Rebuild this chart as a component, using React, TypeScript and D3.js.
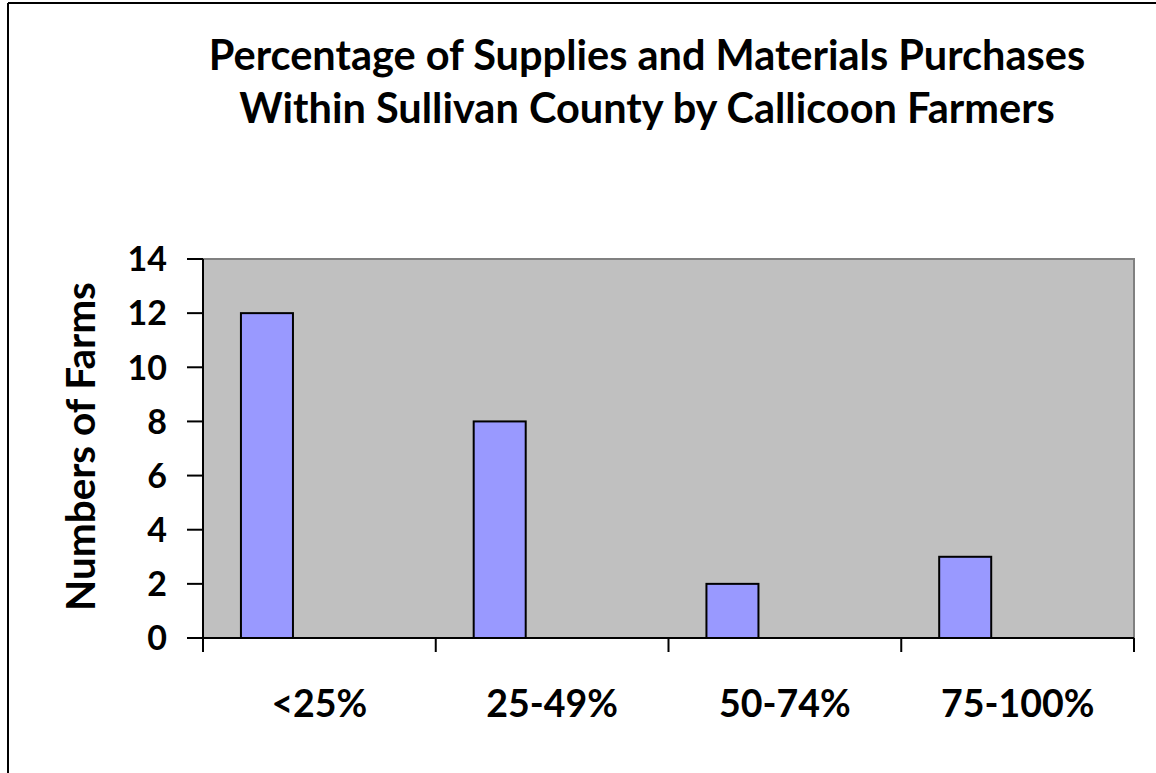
import React from "react";
import * as d3 from "d3";

const categories = ["<25%", "25-49%", "50-74%", "75-100%"];
const farms = [12, 8, 2, 3];
const yTicks = [0, 2, 4, 6, 8, 10, 12, 14];
const titleLines = [
  "Percentage of Supplies and Materials Purchases",
  "Within Sullivan County by Callicoon Farmers",
];
const yTitle = "Numbers of Farms";

const W = 1156;
const H = 773;
const plot = { left: 203, right: 1134, top: 259, bottom: 638 };
const FONT = "Lato, 'Open Sans', sans-serif";

export default function App() {
  const x = d3
    .scaleBand<string>()
    .domain(categories)
    .range([plot.left, plot.right])
    .padding(0);
  const y = d3.scaleLinear().domain([0, 14]).range([plot.bottom, plot.top]);
  const bw = x.bandwidth();
  const barOff = bw * 0.163;
  const barW = bw * 0.2235;

  return (
    <svg
      width={W}
      height={H}
      style={{ position: "absolute", left: 0, top: 0, background: "#fff" }}
      fontFamily={FONT}
    >
      <rect x={0} y={0} width={W} height={H} fill="#fff" />
      {/* frame */}
      <line x1={8} y1={3} x2={W} y2={3} stroke="#000" strokeWidth={2} />
      <line x1={8} y1={3} x2={8} y2={H} stroke="#000" strokeWidth={2} />

      {/* title */}
      {titleLines.map((t, i) => (
        <text
          key={i}
          x={647}
          y={70 + i * 53}
          textAnchor="middle"
          fontWeight="bold"
          fontSize={41.5}
          fill="#000"
        >
          {t}
        </text>
      ))}

      {/* plot area */}
      <rect
        x={plot.left}
        y={plot.top}
        width={plot.right - plot.left}
        height={plot.bottom - plot.top}
        fill="#C0C0C0"
        stroke="#808080"
        strokeWidth={2}
      />

      {/* bars */}
      {categories.map((c, i) => (
        <rect
          key={c}
          x={(x(c) as number) + barOff}
          y={y(farms[i])}
          width={barW}
          height={y(0) - y(farms[i])}
          fill="#9999FF"
          stroke="#000"
          strokeWidth={2}
        />
      ))}

      {/* y axis */}
      <line x1={plot.left} y1={plot.top} x2={plot.left} y2={plot.bottom} stroke="#000" strokeWidth={2} />
      {yTicks.map((t) => (
        <g key={t}>
          <line x1={plot.left - 16} x2={plot.left} y1={y(t)} y2={y(t)} stroke="#000" strokeWidth={2} />
          <text
            x={167}
            y={y(t)}
            dy="0.36em"
            textAnchor="end"
            fontWeight="bold"
            fontSize={34}
            fill="#000"
          >
            {t}
          </text>
        </g>
      ))}

      {/* x axis */}
      <line x1={plot.left - 16} x2={plot.right} y1={plot.bottom} y2={plot.bottom} stroke="#000" strokeWidth={2} />
      {[...categories.map((c) => x(c) as number), plot.right].map((px, i) => (
        <line key={i} x1={px} x2={px} y1={plot.bottom} y2={plot.bottom + 14} stroke="#000" strokeWidth={2} />
      ))}
      {categories.map((c) => (
        <text
          key={c}
          x={(x(c) as number) + bw / 2}
          y={717}
          textAnchor="middle"
          fontWeight="bold"
          fontSize={37.5}
          fill="#000"
        >
          {c}
        </text>
      ))}

      {/* y title */}
      <text
        transform={`translate(95, ${(plot.top + plot.bottom) / 2 - 2}) rotate(-90)`}
        textAnchor="middle"
        fontWeight="bold"
        fontSize={40.5}
        fill="#000"
      >
        {yTitle}
      </text>
    </svg>
  );
}
